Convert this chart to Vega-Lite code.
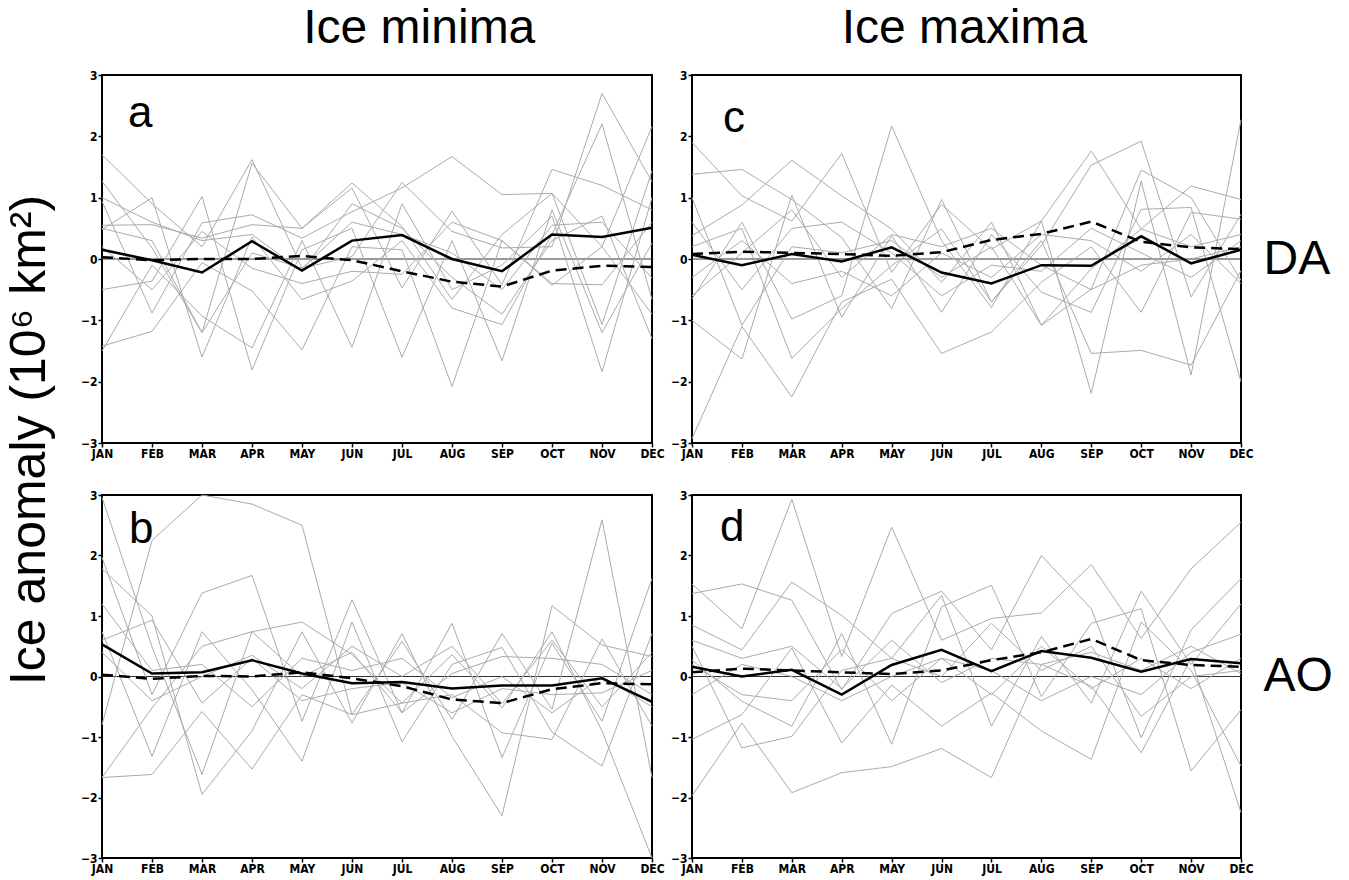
{
"$schema": "https://vega.github.io/schema/vega-lite/v6.json",
"background": "white",
"padding": 5,
"title": {"text": "Ice anomaly (10⁶ km²)", "orient": "left", "anchor": "middle", "fontSize": 50, "font": "Liberation Sans", "fontWeight": "normal", "offset": 24, "color": "black"},
"spacing": 3,
"datasets": {"main": [
{"p":"a","s":"sol","m":1,"v":0.15},{"p":"a","s":"sol","m":2,"v":-0.02},{"p":"a","s":"sol","m":3,"v":-0.22},{"p":"a","s":"sol","m":4,"v":0.29},{"p":"a","s":"sol","m":5,"v":-0.19},{"p":"a","s":"sol","m":6,"v":0.3},{"p":"a","s":"sol","m":7,"v":0.39},{"p":"a","s":"sol","m":8,"v":0},{"p":"a","s":"sol","m":9,"v":-0.2},{"p":"a","s":"sol","m":10,"v":0.4},{"p":"a","s":"sol","m":11,"v":0.36},{"p":"a","s":"sol","m":12,"v":0.51},
{"p":"a","s":"dash","m":1,"v":0.03},{"p":"a","s":"dash","m":2,"v":-0.02},{"p":"a","s":"dash","m":3,"v":0},{"p":"a","s":"dash","m":4,"v":0},{"p":"a","s":"dash","m":5,"v":0.05},{"p":"a","s":"dash","m":6,"v":-0.02},{"p":"a","s":"dash","m":7,"v":-0.2},{"p":"a","s":"dash","m":8,"v":-0.37},{"p":"a","s":"dash","m":9,"v":-0.45},{"p":"a","s":"dash","m":10,"v":-0.19},{"p":"a","s":"dash","m":11,"v":-0.11},{"p":"a","s":"dash","m":12,"v":-0.13},
{"p":"a","s":"g1","m":1,"v":1.7},{"p":"a","s":"g1","m":2,"v":0.9},{"p":"a","s":"g1","m":3,"v":0.2},{"p":"a","s":"g1","m":4,"v":1.62},{"p":"a","s":"g1","m":5,"v":-0.15},{"p":"a","s":"g1","m":6,"v":0.04},{"p":"a","s":"g1","m":7,"v":1.25},{"p":"a","s":"g1","m":8,"v":0.45},{"p":"a","s":"g1","m":9,"v":0.18},{"p":"a","s":"g1","m":10,"v":0.2},{"p":"a","s":"g1","m":11,"v":2.7},{"p":"a","s":"g1","m":12,"v":1.26},
{"p":"a","s":"g2","m":1,"v":1.27},{"p":"a","s":"g2","m":2,"v":0.18},{"p":"a","s":"g2","m":3,"v":-1.2},{"p":"a","s":"g2","m":4,"v":1.56},{"p":"a","s":"g2","m":5,"v":0.5},{"p":"a","s":"g2","m":6,"v":1.24},{"p":"a","s":"g2","m":7,"v":0.53},{"p":"a","s":"g2","m":8,"v":-0.66},{"p":"a","s":"g2","m":9,"v":0.4},{"p":"a","s":"g2","m":10,"v":1.07},{"p":"a","s":"g2","m":11,"v":0.2},{"p":"a","s":"g2","m":12,"v":2.16},
{"p":"a","s":"g3","m":1,"v":0.94},{"p":"a","s":"g3","m":2,"v":-0.88},{"p":"a","s":"g3","m":3,"v":0.59},{"p":"a","s":"g3","m":4,"v":0.72},{"p":"a","s":"g3","m":5,"v":0.34},{"p":"a","s":"g3","m":6,"v":0.77},{"p":"a","s":"g3","m":7,"v":1.16},{"p":"a","s":"g3","m":8,"v":1.67},{"p":"a","s":"g3","m":9,"v":1.05},{"p":"a","s":"g3","m":10,"v":1.07},{"p":"a","s":"g3","m":11,"v":-1.07},{"p":"a","s":"g3","m":12,"v":1.44},
{"p":"a","s":"g4","m":1,"v":0.55},{"p":"a","s":"g4","m":2,"v":0.56},{"p":"a","s":"g4","m":3,"v":0.34},{"p":"a","s":"g4","m":4,"v":0.56},{"p":"a","s":"g4","m":5,"v":0.5},{"p":"a","s":"g4","m":6,"v":1.16},{"p":"a","s":"g4","m":7,"v":-0.47},{"p":"a","s":"g4","m":8,"v":0.78},{"p":"a","s":"g4","m":9,"v":-0.42},{"p":"a","s":"g4","m":10,"v":1.46},{"p":"a","s":"g4","m":11,"v":1.2},{"p":"a","s":"g4","m":12,"v":0.8},
{"p":"a","s":"g5","m":1,"v":0.48},{"p":"a","s":"g5","m":2,"v":1.0},{"p":"a","s":"g5","m":3,"v":-1.6},{"p":"a","s":"g5","m":4,"v":0.36},{"p":"a","s":"g5","m":5,"v":-0.66},{"p":"a","s":"g5","m":6,"v":-0.36},{"p":"a","s":"g5","m":7,"v":0.3},{"p":"a","s":"g5","m":8,"v":-0.8},{"p":"a","s":"g5","m":9,"v":-1.07},{"p":"a","s":"g5","m":10,"v":0.4},{"p":"a","s":"g5","m":11,"v":2.2},{"p":"a","s":"g5","m":12,"v":-0.66},
{"p":"a","s":"g6","m":1,"v":-0.5},{"p":"a","s":"g6","m":2,"v":-0.36},{"p":"a","s":"g6","m":3,"v":1.02},{"p":"a","s":"g6","m":4,"v":-1.81},{"p":"a","s":"g6","m":5,"v":0.15},{"p":"a","s":"g6","m":6,"v":0.5},{"p":"a","s":"g6","m":7,"v":-1.6},{"p":"a","s":"g6","m":8,"v":0.3},{"p":"a","s":"g6","m":9,"v":-1.66},{"p":"a","s":"g6","m":10,"v":0.8},{"p":"a","s":"g6","m":11,"v":-1.2},{"p":"a","s":"g6","m":12,"v":0.26},
{"p":"a","s":"g7","m":1,"v":-1.42},{"p":"a","s":"g7","m":2,"v":-1.18},{"p":"a","s":"g7","m":3,"v":-0.06},{"p":"a","s":"g7","m":4,"v":-0.52},{"p":"a","s":"g7","m":5,"v":-1.48},{"p":"a","s":"g7","m":6,"v":0.2},{"p":"a","s":"g7","m":7,"v":0.15},{"p":"a","s":"g7","m":8,"v":-2.08},{"p":"a","s":"g7","m":9,"v":0.3},{"p":"a","s":"g7","m":10,"v":-0.43},{"p":"a","s":"g7","m":11,"v":0.2},{"p":"a","s":"g7","m":12,"v":-0.9},
{"p":"a","s":"g8","m":1,"v":-1.5},{"p":"a","s":"g8","m":2,"v":-0.1},{"p":"a","s":"g8","m":3,"v":-0.93},{"p":"a","s":"g8","m":4,"v":-1.45},{"p":"a","s":"g8","m":5,"v":0.3},{"p":"a","s":"g8","m":6,"v":-1.44},{"p":"a","s":"g8","m":7,"v":0.9},{"p":"a","s":"g8","m":8,"v":-0.5},{"p":"a","s":"g8","m":9,"v":-0.1},{"p":"a","s":"g8","m":10,"v":0.7},{"p":"a","s":"g8","m":11,"v":-1.84},{"p":"a","s":"g8","m":12,"v":1.0},
{"p":"a","s":"g9","m":1,"v":0.5},{"p":"a","s":"g9","m":2,"v":0.3},{"p":"a","s":"g9","m":3,"v":-1.2},{"p":"a","s":"g9","m":4,"v":0.1},{"p":"a","s":"g9","m":5,"v":-0.15},{"p":"a","s":"g9","m":6,"v":0.6},{"p":"a","s":"g9","m":7,"v":0.4},{"p":"a","s":"g9","m":8,"v":0.1},{"p":"a","s":"g9","m":9,"v":-0.5},{"p":"a","s":"g9","m":10,"v":0.55},{"p":"a","s":"g9","m":11,"v":0.6},{"p":"a","s":"g9","m":12,"v":-0.31},
{"p":"a","s":"g10","m":1,"v":0.2},{"p":"a","s":"g10","m":2,"v":-0.5},{"p":"a","s":"g10","m":3,"v":0.45},{"p":"a","s":"g10","m":4,"v":-0.15},{"p":"a","s":"g10","m":5,"v":-0.4},{"p":"a","s":"g10","m":6,"v":-0.2},{"p":"a","s":"g10","m":7,"v":-0.25},{"p":"a","s":"g10","m":8,"v":0.6},{"p":"a","s":"g10","m":9,"v":0.3},{"p":"a","s":"g10","m":10,"v":-0.4},{"p":"a","s":"g10","m":11,"v":-0.42},{"p":"a","s":"g10","m":12,"v":0.6},
{"p":"a","s":"g11","m":1,"v":1.0},{"p":"a","s":"g11","m":2,"v":0.6},{"p":"a","s":"g11","m":3,"v":0.3},{"p":"a","s":"g11","m":4,"v":0.4},{"p":"a","s":"g11","m":5,"v":-0.2},{"p":"a","s":"g11","m":6,"v":0.9},{"p":"a","s":"g11","m":7,"v":0.5},{"p":"a","s":"g11","m":8,"v":-0.3},{"p":"a","s":"g11","m":9,"v":-0.9},{"p":"a","s":"g11","m":10,"v":0.3},{"p":"a","s":"g11","m":11,"v":0.7},{"p":"a","s":"g11","m":12,"v":-1.3},
{"p":"c","s":"sol","m":1,"v":0.07},{"p":"c","s":"sol","m":2,"v":-0.1},{"p":"c","s":"sol","m":3,"v":0.08},{"p":"c","s":"sol","m":4,"v":-0.04},{"p":"c","s":"sol","m":5,"v":0.19},{"p":"c","s":"sol","m":6,"v":-0.22},{"p":"c","s":"sol","m":7,"v":-0.4},{"p":"c","s":"sol","m":8,"v":-0.1},{"p":"c","s":"sol","m":9,"v":-0.11},{"p":"c","s":"sol","m":10,"v":0.37},{"p":"c","s":"sol","m":11,"v":-0.07},{"p":"c","s":"sol","m":12,"v":0.15},
{"p":"c","s":"dash","m":1,"v":0.08},{"p":"c","s":"dash","m":2,"v":0.12},{"p":"c","s":"dash","m":3,"v":0.1},{"p":"c","s":"dash","m":4,"v":0.08},{"p":"c","s":"dash","m":5,"v":0.05},{"p":"c","s":"dash","m":6,"v":0.11},{"p":"c","s":"dash","m":7,"v":0.31},{"p":"c","s":"dash","m":8,"v":0.41},{"p":"c","s":"dash","m":9,"v":0.61},{"p":"c","s":"dash","m":10,"v":0.28},{"p":"c","s":"dash","m":11,"v":0.19},{"p":"c","s":"dash","m":12,"v":0.16},
{"p":"c","s":"g1","m":1,"v":1.9},{"p":"c","s":"g1","m":2,"v":1.03},{"p":"c","s":"g1","m":3,"v":0.62},{"p":"c","s":"g1","m":4,"v":1.72},{"p":"c","s":"g1","m":5,"v":-0.22},{"p":"c","s":"g1","m":6,"v":0.89},{"p":"c","s":"g1","m":7,"v":0.16},{"p":"c","s":"g1","m":8,"v":0.62},{"p":"c","s":"g1","m":9,"v":1.76},{"p":"c","s":"g1","m":10,"v":0.49},{"p":"c","s":"g1","m":11,"v":1.19},{"p":"c","s":"g1","m":12,"v":0.97},
{"p":"c","s":"g2","m":1,"v":1.38},{"p":"c","s":"g2","m":2,"v":1.46},{"p":"c","s":"g2","m":3,"v":0.97},{"p":"c","s":"g2","m":4,"v":0.35},{"p":"c","s":"g2","m":5,"v":-0.81},{"p":"c","s":"g2","m":6,"v":0.97},{"p":"c","s":"g2","m":7,"v":-0.7},{"p":"c","s":"g2","m":8,"v":0.22},{"p":"c","s":"g2","m":9,"v":1.53},{"p":"c","s":"g2","m":10,"v":1.92},{"p":"c","s":"g2","m":11,"v":-0.62},{"p":"c","s":"g2","m":12,"v":0.73},
{"p":"c","s":"g3","m":1,"v":0.38},{"p":"c","s":"g3","m":2,"v":0.88},{"p":"c","s":"g3","m":3,"v":1.61},{"p":"c","s":"g3","m":4,"v":1.03},{"p":"c","s":"g3","m":5,"v":0.49},{"p":"c","s":"g3","m":6,"v":-0.38},{"p":"c","s":"g3","m":7,"v":0.6},{"p":"c","s":"g3","m":8,"v":-1.08},{"p":"c","s":"g3","m":9,"v":-0.49},{"p":"c","s":"g3","m":10,"v":1.45},{"p":"c","s":"g3","m":11,"v":1.0},{"p":"c","s":"g3","m":12,"v":-0.35},
{"p":"c","s":"g4","m":1,"v":-0.65},{"p":"c","s":"g4","m":2,"v":0.6},{"p":"c","s":"g4","m":3,"v":-0.98},{"p":"c","s":"g4","m":4,"v":-0.6},{"p":"c","s":"g4","m":5,"v":2.17},{"p":"c","s":"g4","m":6,"v":0.3},{"p":"c","s":"g4","m":7,"v":-0.79},{"p":"c","s":"g4","m":8,"v":0.62},{"p":"c","s":"g4","m":9,"v":-2.19},{"p":"c","s":"g4","m":10,"v":1.27},{"p":"c","s":"g4","m":11,"v":-1.89},{"p":"c","s":"g4","m":12,"v":2.27},
{"p":"c","s":"g5","m":1,"v":-1.0},{"p":"c","s":"g5","m":2,"v":-1.63},{"p":"c","s":"g5","m":3,"v":1.04},{"p":"c","s":"g5","m":4,"v":-0.95},{"p":"c","s":"g5","m":5,"v":0.38},{"p":"c","s":"g5","m":6,"v":-0.87},{"p":"c","s":"g5","m":7,"v":0.4},{"p":"c","s":"g5","m":8,"v":-0.54},{"p":"c","s":"g5","m":9,"v":-0.87},{"p":"c","s":"g5","m":10,"v":0.81},{"p":"c","s":"g5","m":11,"v":0.84},{"p":"c","s":"g5","m":12,"v":-2.0},
{"p":"c","s":"g6","m":1,"v":-2.93},{"p":"c","s":"g6","m":2,"v":-1.1},{"p":"c","s":"g6","m":3,"v":-2.25},{"p":"c","s":"g6","m":4,"v":-0.7},{"p":"c","s":"g6","m":5,"v":-0.33},{"p":"c","s":"g6","m":6,"v":-1.54},{"p":"c","s":"g6","m":7,"v":-1.19},{"p":"c","s":"g6","m":8,"v":-0.38},{"p":"c","s":"g6","m":9,"v":0.2},{"p":"c","s":"g6","m":10,"v":-0.87},{"p":"c","s":"g6","m":11,"v":0.76},{"p":"c","s":"g6","m":12,"v":0.65},
{"p":"c","s":"g7","m":1,"v":0.2},{"p":"c","s":"g7","m":2,"v":0.5},{"p":"c","s":"g7","m":3,"v":-1.62},{"p":"c","s":"g7","m":4,"v":-0.81},{"p":"c","s":"g7","m":5,"v":-0.11},{"p":"c","s":"g7","m":6,"v":0.49},{"p":"c","s":"g7","m":7,"v":-0.7},{"p":"c","s":"g7","m":8,"v":0.3},{"p":"c","s":"g7","m":9,"v":-1.54},{"p":"c","s":"g7","m":10,"v":-1.49},{"p":"c","s":"g7","m":11,"v":-1.73},{"p":"c","s":"g7","m":12,"v":-0.19},
{"p":"c","s":"g8","m":1,"v":1.0},{"p":"c","s":"g8","m":2,"v":-1.08},{"p":"c","s":"g8","m":3,"v":0.2},{"p":"c","s":"g8","m":4,"v":0.1},{"p":"c","s":"g8","m":5,"v":0.3},{"p":"c","s":"g8","m":6,"v":-0.3},{"p":"c","s":"g8","m":7,"v":0.2},{"p":"c","s":"g8","m":8,"v":-1.08},{"p":"c","s":"g8","m":9,"v":-0.16},{"p":"c","s":"g8","m":10,"v":0.49},{"p":"c","s":"g8","m":11,"v":0.2},{"p":"c","s":"g8","m":12,"v":0.4},
{"p":"c","s":"g9","m":1,"v":-0.3},{"p":"c","s":"g9","m":2,"v":0.3},{"p":"c","s":"g9","m":3,"v":-0.4},{"p":"c","s":"g9","m":4,"v":-0.2},{"p":"c","s":"g9","m":5,"v":-0.6},{"p":"c","s":"g9","m":6,"v":0.1},{"p":"c","s":"g9","m":7,"v":-0.3},{"p":"c","s":"g9","m":8,"v":0.4},{"p":"c","s":"g9","m":9,"v":0.3},{"p":"c","s":"g9","m":10,"v":-0.2},{"p":"c","s":"g9","m":11,"v":0.4},{"p":"c","s":"g9","m":12,"v":-0.4},
{"p":"c","s":"g10","m":1,"v":0.6},{"p":"c","s":"g10","m":2,"v":-0.5},{"p":"c","s":"g10","m":3,"v":0.5},{"p":"c","s":"g10","m":4,"v":0.6},{"p":"c","s":"g10","m":5,"v":0.1},{"p":"c","s":"g10","m":6,"v":-0.6},{"p":"c","s":"g10","m":7,"v":-0.1},{"p":"c","s":"g10","m":8,"v":-0.2},{"p":"c","s":"g10","m":9,"v":0.5},{"p":"c","s":"g10","m":10,"v":0.1},{"p":"c","s":"g10","m":11,"v":-0.3},{"p":"c","s":"g10","m":12,"v":0.3},
{"p":"c","s":"g11","m":1,"v":-0.6},{"p":"c","s":"g11","m":2,"v":0.1},{"p":"c","s":"g11","m":3,"v":0.8},{"p":"c","s":"g11","m":4,"v":-0.3},{"p":"c","s":"g11","m":5,"v":0.4},{"p":"c","s":"g11","m":6,"v":0.2},{"p":"c","s":"g11","m":7,"v":0.5},{"p":"c","s":"g11","m":8,"v":-0.1},{"p":"c","s":"g11","m":9,"v":-0.5},{"p":"c","s":"g11","m":10,"v":-0.1},{"p":"c","s":"g11","m":11,"v":0.0},{"p":"c","s":"g11","m":12,"v":0.2},
{"p":"b","s":"sol","m":1,"v":0.53},{"p":"b","s":"sol","m":2,"v":0.05},{"p":"b","s":"sol","m":3,"v":0.07},{"p":"b","s":"sol","m":4,"v":0.27},{"p":"b","s":"sol","m":5,"v":0.05},{"p":"b","s":"sol","m":6,"v":-0.11},{"p":"b","s":"sol","m":7,"v":-0.09},{"p":"b","s":"sol","m":8,"v":-0.2},{"p":"b","s":"sol","m":9,"v":-0.15},{"p":"b","s":"sol","m":10,"v":-0.15},{"p":"b","s":"sol","m":11,"v":-0.03},{"p":"b","s":"sol","m":12,"v":-0.42},
{"p":"b","s":"dash","m":1,"v":0.03},{"p":"b","s":"dash","m":2,"v":-0.04},{"p":"b","s":"dash","m":3,"v":0.01},{"p":"b","s":"dash","m":4,"v":0},{"p":"b","s":"dash","m":5,"v":0.07},{"p":"b","s":"dash","m":6,"v":-0.03},{"p":"b","s":"dash","m":7,"v":-0.16},{"p":"b","s":"dash","m":8,"v":-0.38},{"p":"b","s":"dash","m":9,"v":-0.44},{"p":"b","s":"dash","m":10,"v":-0.21},{"p":"b","s":"dash","m":11,"v":-0.11},{"p":"b","s":"dash","m":12,"v":-0.13},
{"p":"b","s":"g1","m":1,"v":2.96},{"p":"b","s":"g1","m":2,"v":0.49},{"p":"b","s":"g1","m":3,"v":-1.62},{"p":"b","s":"g1","m":4,"v":0.74},{"p":"b","s":"g1","m":5,"v":0.9},{"p":"b","s":"g1","m":6,"v":0.36},{"p":"b","s":"g1","m":7,"v":-0.44},{"p":"b","s":"g1","m":8,"v":0.36},{"p":"b","s":"g1","m":9,"v":-0.52},{"p":"b","s":"g1","m":10,"v":0.74},{"p":"b","s":"g1","m":11,"v":-0.9},{"p":"b","s":"g1","m":12,"v":-3.0},
{"p":"b","s":"g2","m":1,"v":-0.8},{"p":"b","s":"g2","m":2,"v":2.25},{"p":"b","s":"g2","m":3,"v":3.0},{"p":"b","s":"g2","m":4,"v":2.85},{"p":"b","s":"g2","m":5,"v":2.5},{"p":"b","s":"g2","m":6,"v":-0.63},{"p":"b","s":"g2","m":7,"v":0.58},{"p":"b","s":"g2","m":8,"v":-0.71},{"p":"b","s":"g2","m":9,"v":0.71},{"p":"b","s":"g2","m":10,"v":-0.54},{"p":"b","s":"g2","m":11,"v":2.59},{"p":"b","s":"g2","m":12,"v":-1.67},
{"p":"b","s":"g3","m":1,"v":1.97},{"p":"b","s":"g3","m":2,"v":-0.3},{"p":"b","s":"g3","m":3,"v":1.38},{"p":"b","s":"g3","m":4,"v":1.67},{"p":"b","s":"g3","m":5,"v":-0.74},{"p":"b","s":"g3","m":6,"v":1.27},{"p":"b","s":"g3","m":7,"v":-0.6},{"p":"b","s":"g3","m":8,"v":0.88},{"p":"b","s":"g3","m":9,"v":-1.34},{"p":"b","s":"g3","m":10,"v":0.55},{"p":"b","s":"g3","m":11,"v":-0.74},{"p":"b","s":"g3","m":12,"v":1.62},
{"p":"b","s":"g4","m":1,"v":1.78},{"p":"b","s":"g4","m":2,"v":1.0},{"p":"b","s":"g4","m":3,"v":-1.95},{"p":"b","s":"g4","m":4,"v":-0.9},{"p":"b","s":"g4","m":5,"v":0.74},{"p":"b","s":"g4","m":6,"v":-0.77},{"p":"b","s":"g4","m":7,"v":0.71},{"p":"b","s":"g4","m":8,"v":-0.99},{"p":"b","s":"g4","m":9,"v":-2.3},{"p":"b","s":"g4","m":10,"v":1.17},{"p":"b","s":"g4","m":11,"v":0.52},{"p":"b","s":"g4","m":12,"v":0.33},
{"p":"b","s":"g5","m":1,"v":0.74},{"p":"b","s":"g5","m":2,"v":-1.32},{"p":"b","s":"g5","m":3,"v":0.74},{"p":"b","s":"g5","m":4,"v":-0.22},{"p":"b","s":"g5","m":5,"v":-1.4},{"p":"b","s":"g5","m":6,"v":0.9},{"p":"b","s":"g5","m":7,"v":-1.08},{"p":"b","s":"g5","m":8,"v":0.2},{"p":"b","s":"g5","m":9,"v":0.48},{"p":"b","s":"g5","m":10,"v":-0.92},{"p":"b","s":"g5","m":11,"v":-1.48},{"p":"b","s":"g5","m":12,"v":0.71},
{"p":"b","s":"g6","m":1,"v":-1.67},{"p":"b","s":"g6","m":2,"v":-1.62},{"p":"b","s":"g6","m":3,"v":-0.58},{"p":"b","s":"g6","m":4,"v":-1.53},{"p":"b","s":"g6","m":5,"v":-0.3},{"p":"b","s":"g6","m":6,"v":-0.63},{"p":"b","s":"g6","m":7,"v":-0.44},{"p":"b","s":"g6","m":8,"v":-0.3},{"p":"b","s":"g6","m":9,"v":-0.93},{"p":"b","s":"g6","m":10,"v":-1.04},{"p":"b","s":"g6","m":11,"v":0.62},{"p":"b","s":"g6","m":12,"v":-0.82},
{"p":"b","s":"g7","m":1,"v":-1.67},{"p":"b","s":"g7","m":2,"v":-0.52},{"p":"b","s":"g7","m":3,"v":0.5},{"p":"b","s":"g7","m":4,"v":0.74},{"p":"b","s":"g7","m":5,"v":0.0},{"p":"b","s":"g7","m":6,"v":0.4},{"p":"b","s":"g7","m":7,"v":-0.6},{"p":"b","s":"g7","m":8,"v":0.05},{"p":"b","s":"g7","m":9,"v":0.33},{"p":"b","s":"g7","m":10,"v":0.3},{"p":"b","s":"g7","m":11,"v":0.2},{"p":"b","s":"g7","m":12,"v":-0.3},
{"p":"b","s":"g8","m":1,"v":0.6},{"p":"b","s":"g8","m":2,"v":0.93},{"p":"b","s":"g8","m":3,"v":-0.44},{"p":"b","s":"g8","m":4,"v":0.3},{"p":"b","s":"g8","m":5,"v":-0.4},{"p":"b","s":"g8","m":6,"v":-0.2},{"p":"b","s":"g8","m":7,"v":-0.1},{"p":"b","s":"g8","m":8,"v":-0.6},{"p":"b","s":"g8","m":9,"v":-0.2},{"p":"b","s":"g8","m":10,"v":-0.3},{"p":"b","s":"g8","m":11,"v":-0.27},{"p":"b","s":"g8","m":12,"v":0.1},
{"p":"b","s":"g9","m":1,"v":1.2},{"p":"b","s":"g9","m":2,"v":0.1},{"p":"b","s":"g9","m":3,"v":0.2},{"p":"b","s":"g9","m":4,"v":-0.5},{"p":"b","s":"g9","m":5,"v":0.3},{"p":"b","s":"g9","m":6,"v":0.1},{"p":"b","s":"g9","m":7,"v":0.3},{"p":"b","s":"g9","m":8,"v":-0.35},{"p":"b","s":"g9","m":9,"v":0.0},{"p":"b","s":"g9","m":10,"v":-0.6},{"p":"b","s":"g9","m":11,"v":0.0},{"p":"b","s":"g9","m":12,"v":-0.5},
{"p":"b","s":"g10","m":1,"v":0.4},{"p":"b","s":"g10","m":2,"v":-0.4},{"p":"b","s":"g10","m":3,"v":0.0},{"p":"b","s":"g10","m":4,"v":0.35},{"p":"b","s":"g10","m":5,"v":-0.2},{"p":"b","s":"g10","m":6,"v":0.5},{"p":"b","s":"g10","m":7,"v":0.0},{"p":"b","s":"g10","m":8,"v":0.5},{"p":"b","s":"g10","m":9,"v":-0.45},{"p":"b","s":"g10","m":10,"v":0.6},{"p":"b","s":"g10","m":11,"v":-0.5},{"p":"b","s":"g10","m":12,"v":0.4},
{"p":"d","s":"sol","m":1,"v":0.16},{"p":"d","s":"sol","m":2,"v":0.0},{"p":"d","s":"sol","m":3,"v":0.11},{"p":"d","s":"sol","m":4,"v":-0.3},{"p":"d","s":"sol","m":5,"v":0.19},{"p":"d","s":"sol","m":6,"v":0.44},{"p":"d","s":"sol","m":7,"v":0.09},{"p":"d","s":"sol","m":8,"v":0.42},{"p":"d","s":"sol","m":9,"v":0.31},{"p":"d","s":"sol","m":10,"v":0.08},{"p":"d","s":"sol","m":11,"v":0.29},{"p":"d","s":"sol","m":12,"v":0.22},
{"p":"d","s":"dash","m":1,"v":0.07},{"p":"d","s":"dash","m":2,"v":0.13},{"p":"d","s":"dash","m":3,"v":0.1},{"p":"d","s":"dash","m":4,"v":0.07},{"p":"d","s":"dash","m":5,"v":0.04},{"p":"d","s":"dash","m":6,"v":0.1},{"p":"d","s":"dash","m":7,"v":0.27},{"p":"d","s":"dash","m":8,"v":0.4},{"p":"d","s":"dash","m":9,"v":0.62},{"p":"d","s":"dash","m":10,"v":0.27},{"p":"d","s":"dash","m":11,"v":0.19},{"p":"d","s":"dash","m":12,"v":0.16},
{"p":"d","s":"g1","m":1,"v":1.53},{"p":"d","s":"g1","m":2,"v":0.79},{"p":"d","s":"g1","m":3,"v":2.93},{"p":"d","s":"g1","m":4,"v":0.33},{"p":"d","s":"g1","m":5,"v":2.47},{"p":"d","s":"g1","m":6,"v":0.6},{"p":"d","s":"g1","m":7,"v":0.96},{"p":"d","s":"g1","m":8,"v":1.05},{"p":"d","s":"g1","m":9,"v":1.85},{"p":"d","s":"g1","m":10,"v":0.63},{"p":"d","s":"g1","m":11,"v":1.78},{"p":"d","s":"g1","m":12,"v":2.55},
{"p":"d","s":"g2","m":1,"v":1.37},{"p":"d","s":"g2","m":2,"v":1.53},{"p":"d","s":"g2","m":3,"v":1.26},{"p":"d","s":"g2","m":4,"v":-0.22},{"p":"d","s":"g2","m":5,"v":1.04},{"p":"d","s":"g2","m":6,"v":1.41},{"p":"d","s":"g2","m":7,"v":0.44},{"p":"d","s":"g2","m":8,"v":2.0},{"p":"d","s":"g2","m":9,"v":1.12},{"p":"d","s":"g2","m":10,"v":-1.01},{"p":"d","s":"g2","m":11,"v":0.77},{"p":"d","s":"g2","m":12,"v":1.62},
{"p":"d","s":"g3","m":1,"v":0.85},{"p":"d","s":"g3","m":2,"v":0.44},{"p":"d","s":"g3","m":3,"v":1.56},{"p":"d","s":"g3","m":4,"v":1.01},{"p":"d","s":"g3","m":5,"v":0.3},{"p":"d","s":"g3","m":6,"v":1.34},{"p":"d","s":"g3","m":7,"v":-0.82},{"p":"d","s":"g3","m":8,"v":0.66},{"p":"d","s":"g3","m":9,"v":-0.44},{"p":"d","s":"g3","m":10,"v":1.41},{"p":"d","s":"g3","m":11,"v":0.2},{"p":"d","s":"g3","m":12,"v":1.2},
{"p":"d","s":"g4","m":1,"v":0.27},{"p":"d","s":"g4","m":2,"v":-0.41},{"p":"d","s":"g4","m":3,"v":-0.82},{"p":"d","s":"g4","m":4,"v":0.71},{"p":"d","s":"g4","m":5,"v":-1.12},{"p":"d","s":"g4","m":6,"v":1.15},{"p":"d","s":"g4","m":7,"v":1.51},{"p":"d","s":"g4","m":8,"v":-0.33},{"p":"d","s":"g4","m":9,"v":0.88},{"p":"d","s":"g4","m":10,"v":1.12},{"p":"d","s":"g4","m":11,"v":-1.56},{"p":"d","s":"g4","m":12,"v":-0.55},
{"p":"d","s":"g5","m":1,"v":-1.04},{"p":"d","s":"g5","m":2,"v":-0.63},{"p":"d","s":"g5","m":3,"v":0.47},{"p":"d","s":"g5","m":4,"v":-1.1},{"p":"d","s":"g5","m":5,"v":-0.14},{"p":"d","s":"g5","m":6,"v":-0.82},{"p":"d","s":"g5","m":7,"v":-0.27},{"p":"d","s":"g5","m":8,"v":-0.9},{"p":"d","s":"g5","m":9,"v":-1.37},{"p":"d","s":"g5","m":10,"v":0.9},{"p":"d","s":"g5","m":11,"v":0.1},{"p":"d","s":"g5","m":12,"v":-1.48},
{"p":"d","s":"g6","m":1,"v":-1.97},{"p":"d","s":"g6","m":2,"v":-0.77},{"p":"d","s":"g6","m":3,"v":-1.92},{"p":"d","s":"g6","m":4,"v":-1.59},{"p":"d","s":"g6","m":5,"v":-1.49},{"p":"d","s":"g6","m":6,"v":-1.19},{"p":"d","s":"g6","m":7,"v":-1.67},{"p":"d","s":"g6","m":8,"v":0.2},{"p":"d","s":"g6","m":9,"v":-0.16},{"p":"d","s":"g6","m":10,"v":-1.26},{"p":"d","s":"g6","m":11,"v":0.3},{"p":"d","s":"g6","m":12,"v":-2.25},
{"p":"d","s":"g7","m":1,"v":0.5},{"p":"d","s":"g7","m":2,"v":-1.18},{"p":"d","s":"g7","m":3,"v":-0.99},{"p":"d","s":"g7","m":4,"v":0.1},{"p":"d","s":"g7","m":5,"v":0.3},{"p":"d","s":"g7","m":6,"v":0.0},{"p":"d","s":"g7","m":7,"v":0.88},{"p":"d","s":"g7","m":8,"v":0.1},{"p":"d","s":"g7","m":9,"v":0.5},{"p":"d","s":"g7","m":10,"v":-0.66},{"p":"d","s":"g7","m":11,"v":0.0},{"p":"d","s":"g7","m":12,"v":0.1},
{"p":"d","s":"g8","m":1,"v":-0.3},{"p":"d","s":"g8","m":2,"v":0.2},{"p":"d","s":"g8","m":3,"v":0.0},{"p":"d","s":"g8","m":4,"v":-0.4},{"p":"d","s":"g8","m":5,"v":0.0},{"p":"d","s":"g8","m":6,"v":0.3},{"p":"d","s":"g8","m":7,"v":-0.3},{"p":"d","s":"g8","m":8,"v":0.5},{"p":"d","s":"g8","m":9,"v":-0.2},{"p":"d","s":"g8","m":10,"v":0.3},{"p":"d","s":"g8","m":11,"v":-0.2},{"p":"d","s":"g8","m":12,"v":0.3},
{"p":"d","s":"g9","m":1,"v":0.6},{"p":"d","s":"g9","m":2,"v":0.3},{"p":"d","s":"g9","m":3,"v":0.5},{"p":"d","s":"g9","m":4,"v":-0.2},{"p":"d","s":"g9","m":5,"v":0.6},{"p":"d","s":"g9","m":6,"v":-0.1},{"p":"d","s":"g9","m":7,"v":0.3},{"p":"d","s":"g9","m":8,"v":0.2},{"p":"d","s":"g9","m":9,"v":0.4},{"p":"d","s":"g9","m":10,"v":0.1},{"p":"d","s":"g9","m":11,"v":0.5},{"p":"d","s":"g9","m":12,"v":0.05},
{"p":"d","s":"g10","m":1,"v":0.2},{"p":"d","s":"g10","m":2,"v":-0.3},{"p":"d","s":"g10","m":3,"v":-0.4},{"p":"d","s":"g10","m":4,"v":0.45},{"p":"d","s":"g10","m":5,"v":-0.4},{"p":"d","s":"g10","m":6,"v":0.3},{"p":"d","s":"g10","m":7,"v":0.1},{"p":"d","s":"g10","m":8,"v":-0.4},{"p":"d","s":"g10","m":9,"v":0.0},{"p":"d","s":"g10","m":10,"v":-0.3},{"p":"d","s":"g10","m":11,"v":0.4},{"p":"d","s":"g10","m":12,"v":0.7}
]},
"hconcat": [
{
"title": {"text": "Ice minima", "fontSize": 48, "font": "Liberation Sans", "fontWeight": "normal", "color": "black", "anchor": "middle", "dx": 47, "dy": 6, "offset": 21},
"spacing": 28,
"vconcat": [
{
"width": 550, "height": 368,
"layer": [
{"data": {"values": [{"zero": 0}]}, "mark": {"type": "rule", "color": "#333333", "strokeWidth": 1}, "encoding": {"y": {"field": "zero", "type": "quantitative", "scale": {"domain": [-3, 3], "nice": false}, "axis": null}}},
{"data": {"name": "main"}, "transform": [{"filter": {"field": "p", "equal": "a"}}],
"encoding": {
"x": {"field": "m", "type": "quantitative", "scale": {"domain": [1, 12], "nice": false, "zero": false}, "axis": {"values": [1,2,3,4,5,6,7,8,9,10,11,12], "labelExpr": "['JAN','FEB','MAR','APR','MAY','JUN','JUL','AUG','SEP','OCT','NOV','DEC'][datum.value-1]", "title": null, "labelFlush": false, "labelOverlap": false}},
"y": {"field": "v", "type": "quantitative", "scale": {"domain": [-3, 3], "nice": false}, "axis": {"values": [-3,-2,-1,0,1,2,3], "title": null, "format": "d", "labelOverlap": false}}
},
"layer": [
{"transform": [{"filter": {"not": {"field": "s", "oneOf": ["sol", "dash"]}}}], "mark": {"type": "line", "color": "#ababab", "strokeWidth": 1}, "encoding": {"detail": {"field": "s"}}},
{"transform": [{"filter": {"field": "s", "equal": "dash"}}], "mark": {"type": "line", "color": "black", "strokeWidth": 2.5, "strokeDash": [11, 6]}},
{"transform": [{"filter": {"field": "s", "equal": "sol"}}], "mark": {"type": "line", "color": "black", "strokeWidth": 2.5}}
]},
{"data": {"values": [{"label": "a"}]}, "mark": {"type": "text", "align": "left", "baseline": "alphabetic", "fontSize": 44, "font": "Liberation Sans", "color": "black"}, "encoding": {"text": {"field": "label", "type": "nominal"}, "x": {"datum": 1.52, "type": "quantitative"}, "y": {"datum": 2.15, "type": "quantitative", "scale": {"domain": [-3, 3], "nice": false}, "axis": null}}}
],
"resolve": {"scale": {"y": "independent"}}
},
{
"width": 550, "height": 363,
"layer": [
{"data": {"values": [{"zero": 0}]}, "mark": {"type": "rule", "color": "#333333", "strokeWidth": 1}, "encoding": {"y": {"field": "zero", "type": "quantitative", "scale": {"domain": [-3, 3], "nice": false}, "axis": null}}},
{"data": {"name": "main"}, "transform": [{"filter": {"field": "p", "equal": "b"}}],
"encoding": {
"x": {"field": "m", "type": "quantitative", "scale": {"domain": [1, 12], "nice": false, "zero": false}, "axis": {"values": [1,2,3,4,5,6,7,8,9,10,11,12], "labelExpr": "['JAN','FEB','MAR','APR','MAY','JUN','JUL','AUG','SEP','OCT','NOV','DEC'][datum.value-1]", "title": null, "labelFlush": false, "labelOverlap": false}},
"y": {"field": "v", "type": "quantitative", "scale": {"domain": [-3, 3], "nice": false}, "axis": {"values": [-3,-2,-1,0,1,2,3], "title": null, "format": "d", "labelOverlap": false}}
},
"layer": [
{"transform": [{"filter": {"not": {"field": "s", "oneOf": ["sol", "dash"]}}}], "mark": {"type": "line", "color": "#ababab", "strokeWidth": 1}, "encoding": {"detail": {"field": "s"}}},
{"transform": [{"filter": {"field": "s", "equal": "dash"}}], "mark": {"type": "line", "color": "black", "strokeWidth": 2.5, "strokeDash": [11, 6]}},
{"transform": [{"filter": {"field": "s", "equal": "sol"}}], "mark": {"type": "line", "color": "black", "strokeWidth": 2.5}}
]},
{"data": {"values": [{"label": "b"}]}, "mark": {"type": "text", "align": "left", "baseline": "alphabetic", "fontSize": 44, "font": "Liberation Sans", "color": "black"}, "encoding": {"text": {"field": "label", "type": "nominal"}, "x": {"datum": 1.54, "type": "quantitative"}, "y": {"datum": 2.21, "type": "quantitative", "scale": {"domain": [-3, 3], "nice": false}, "axis": null}}}
],
"resolve": {"scale": {"y": "independent"}}
}
]
},
{
"title": {"text": "Ice maxima", "fontSize": 48, "font": "Liberation Sans", "fontWeight": "normal", "color": "black", "anchor": "middle", "dx": -37, "dy": 6, "offset": 21},
"spacing": 28,
"vconcat": [
{
"width": 549, "height": 368,
"layer": [
{"data": {"values": [{"zero": 0}]}, "mark": {"type": "rule", "color": "#333333", "strokeWidth": 1}, "encoding": {"y": {"field": "zero", "type": "quantitative", "scale": {"domain": [-3, 3], "nice": false}, "axis": {"orient": "right", "title": "DA", "titleAngle": 0, "titleFontSize": 48, "titleFont": "Liberation Sans", "titleFontWeight": "normal", "titleColor": "black", "titleAlign": "left", "titleBaseline": "middle", "titlePadding": 22, "labels": false, "ticks": false, "domain": false, "grid": false}}}},
{"data": {"name": "main"}, "transform": [{"filter": {"field": "p", "equal": "c"}}],
"encoding": {
"x": {"field": "m", "type": "quantitative", "scale": {"domain": [1, 12], "nice": false, "zero": false}, "axis": {"values": [1,2,3,4,5,6,7,8,9,10,11,12], "labelExpr": "['JAN','FEB','MAR','APR','MAY','JUN','JUL','AUG','SEP','OCT','NOV','DEC'][datum.value-1]", "title": null, "labelFlush": false, "labelOverlap": false}},
"y": {"field": "v", "type": "quantitative", "scale": {"domain": [-3, 3], "nice": false}, "axis": {"orient": "left", "values": [-3,-2,-1,0,1,2,3], "title": null, "format": "d", "labelOverlap": false}}
},
"layer": [
{"transform": [{"filter": {"not": {"field": "s", "oneOf": ["sol", "dash"]}}}], "mark": {"type": "line", "color": "#ababab", "strokeWidth": 1}, "encoding": {"detail": {"field": "s"}}},
{"transform": [{"filter": {"field": "s", "equal": "dash"}}], "mark": {"type": "line", "color": "black", "strokeWidth": 2.5, "strokeDash": [11, 6]}},
{"transform": [{"filter": {"field": "s", "equal": "sol"}}], "mark": {"type": "line", "color": "black", "strokeWidth": 2.5}}
]},
{"data": {"values": [{"label": "c"}]}, "mark": {"type": "text", "align": "left", "baseline": "alphabetic", "fontSize": 44, "font": "Liberation Sans", "color": "black"}, "encoding": {"text": {"field": "label", "type": "nominal"}, "x": {"datum": 1.62, "type": "quantitative"}, "y": {"datum": 2.07, "type": "quantitative", "scale": {"domain": [-3, 3], "nice": false}, "axis": null}}}
],
"resolve": {"scale": {"y": "independent"}}
},
{
"width": 549, "height": 363,
"layer": [
{"data": {"values": [{"zero": 0}]}, "mark": {"type": "rule", "color": "#333333", "strokeWidth": 1}, "encoding": {"y": {"field": "zero", "type": "quantitative", "scale": {"domain": [-3, 3], "nice": false}, "axis": {"orient": "right", "title": "AO", "titleAngle": 0, "titleFontSize": 48, "titleFont": "Liberation Sans", "titleFontWeight": "normal", "titleColor": "black", "titleAlign": "left", "titleBaseline": "middle", "titlePadding": 22, "labels": false, "ticks": false, "domain": false, "grid": false}}}},
{"data": {"name": "main"}, "transform": [{"filter": {"field": "p", "equal": "d"}}],
"encoding": {
"x": {"field": "m", "type": "quantitative", "scale": {"domain": [1, 12], "nice": false, "zero": false}, "axis": {"values": [1,2,3,4,5,6,7,8,9,10,11,12], "labelExpr": "['JAN','FEB','MAR','APR','MAY','JUN','JUL','AUG','SEP','OCT','NOV','DEC'][datum.value-1]", "title": null, "labelFlush": false, "labelOverlap": false}},
"y": {"field": "v", "type": "quantitative", "scale": {"domain": [-3, 3], "nice": false}, "axis": {"orient": "left", "values": [-3,-2,-1,0,1,2,3], "title": null, "format": "d", "labelOverlap": false}}
},
"layer": [
{"transform": [{"filter": {"not": {"field": "s", "oneOf": ["sol", "dash"]}}}], "mark": {"type": "line", "color": "#ababab", "strokeWidth": 1}, "encoding": {"detail": {"field": "s"}}},
{"transform": [{"filter": {"field": "s", "equal": "dash"}}], "mark": {"type": "line", "color": "black", "strokeWidth": 2.5, "strokeDash": [11, 6]}},
{"transform": [{"filter": {"field": "s", "equal": "sol"}}], "mark": {"type": "line", "color": "black", "strokeWidth": 2.5}}
]},
{"data": {"values": [{"label": "d"}]}, "mark": {"type": "text", "align": "left", "baseline": "alphabetic", "fontSize": 44, "font": "Liberation Sans", "color": "black"}, "encoding": {"text": {"field": "label", "type": "nominal"}, "x": {"datum": 1.56, "type": "quantitative"}, "y": {"datum": 2.24, "type": "quantitative", "scale": {"domain": [-3, 3], "nice": false}, "axis": null}}}
],
"resolve": {"scale": {"y": "independent"}}
}
]
}
],
"config": {
"view": {"stroke": "black", "strokeWidth": 2},
"axis": {"labelFont": "Liberation Sans Narrow, DejaVu Sans Condensed, sans-serif", "labelFontSize": 12, "labelFontWeight": "bold", "labelColor": "black", "tickColor": "black", "tickWidth": 1.5, "tickSize": 4, "labelPadding": 1, "domain": false, "grid": false}
}
}
